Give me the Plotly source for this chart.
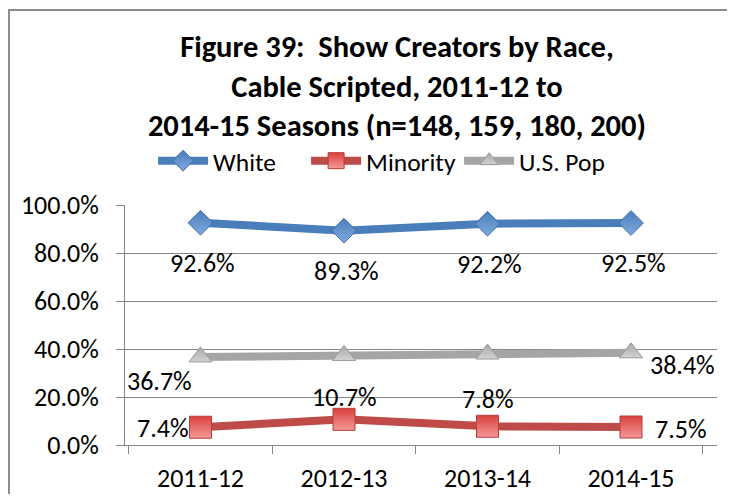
import plotly.graph_objects as go

seasons = ["2011-12", "2012-13", "2013-14", "2014-15"]
white = [92.6, 89.3, 92.2, 92.5]
minority = [7.4, 10.7, 7.8, 7.5]
us_pop = [36.7, 37.3, 37.9, 38.4]

FONT = "Carlito, Calibri, Lato, sans-serif"
LABEL_SIZE = 26

fig = go.Figure()

fig.add_trace(go.Scatter(
    x=seasons, y=white, name="White", mode="lines+markers",
    line=dict(color="#4A7EBB", width=8),
    marker=dict(symbol="diamond", size=19, color="#4A7EBB",
                gradient=dict(type="vertical", color="#7FA9E0"),
                line=dict(color="#3C6CA8", width=1)),
))
fig.add_trace(go.Scatter(
    x=seasons, y=minority, name="Minority", mode="lines+markers",
    line=dict(color="#BE4B48", width=8),
    marker=dict(symbol="square", size=22, color="#D9403C",
                gradient=dict(type="vertical", color="#F59A98"),
                line=dict(color="#B83C38", width=1)),
))
fig.add_trace(go.Scatter(
    x=seasons, y=us_pop, name="U.S. Pop", mode="lines+markers",
    line=dict(color="#A5A5A5", width=8),
    marker=dict(symbol="triangle-up", size=20, color="#A8A8A8",
                gradient=dict(type="vertical", color="#D2D2D2"),
                line=dict(color="#9A9A9A", width=1)),
))

# data labels, placed like the Excel original
annots = []
for s, v in zip(seasons, white):
    annots.append(dict(x=s, y=v, text=f"{v:.1f}%", yshift=-40,
                       xshift=2, showarrow=False))
min_pos = [dict(xanchor="right", xshift=-10, yshift=-1),
           dict(yshift=22), dict(yshift=27),
           dict(xanchor="left", xshift=22, yshift=-2)]
for s, v, p in zip(seasons, minority, min_pos):
    annots.append(dict(x=s, y=v, text=f"{v:.1f}%", showarrow=False, **p))
annots.append(dict(x=seasons[0], y=us_pop[0], text=f"{us_pop[0]:.1f}%",
                   showarrow=False, xshift=-41, yshift=-24))
annots.append(dict(x=seasons[-1], y=us_pop[-1], text=f"{us_pop[-1]:.1f}%",
                   showarrow=False, xanchor="left", xshift=17, yshift=-12))
for a in annots:
    a["font"] = dict(family=FONT, size=LABEL_SIZE, color="black")

# page body adds an 8px margin, so the figure is sized to fit the window
fig.update_layout(
    width=719, height=486,
    paper_bgcolor="white", plot_bgcolor="white",
    font=dict(family=FONT, size=LABEL_SIZE, color="black"),
    margin=dict(l=117, r=10, t=197, b=49, autoexpand=False),
    title=dict(
        text="Figure 39:  Show Creators by Race,<br>Cable Scripted, 2011-12 to"
             "<br>2014-15 Seasons (n=148, 159, 180, 200)",
        x=0.541, xanchor="center", xref="container",
        y=0.899, yanchor="top", yref="container",
        font=dict(family=FONT, size=30.5, color="black", weight="bold"),
    ),
    legend=dict(
        orientation="h", x=0.521, xanchor="center", xref="container",
        y=0.685, yanchor="middle", yref="container",
        font=dict(size=25.5), bgcolor="rgba(0,0,0,0)", itemwidth=50,
        entrywidth=88,
    ),
    showlegend=True,
    annotations=annots,
    shapes=[dict(type="rect", xref="paper", yref="paper",
                 x0=-0.196, x1=1.2, y0=-0.3, y1=1.8125,
                 line=dict(color="#8C8C8C", width=2))],
)

fig.update_xaxes(
    type="category", showline=True, linecolor="#868686", linewidth=1,
    ticks="outside", tickson="boundaries", ticklen=8, tickcolor="#868686",
    showgrid=False, tickfont=dict(size=LABEL_SIZE), tickangle=0,
    ticklabelstandoff=10,
)
fig.update_yaxes(
    range=[0, 100], tickvals=[0, 20, 40, 60, 80, 100],
    ticktext=["0.0%", "20.0%", "40.0%", "60.0%", "80.0%", "100.0%"],
    showgrid=True, gridcolor="#868686", gridwidth=1,
    showline=True, linecolor="#868686", ticks="outside", ticklen=8,
    tickcolor="#868686", tickfont=dict(size=LABEL_SIZE), zeroline=False,
    ticklabelstandoff=12,
)

fig.write_html("out.html")
